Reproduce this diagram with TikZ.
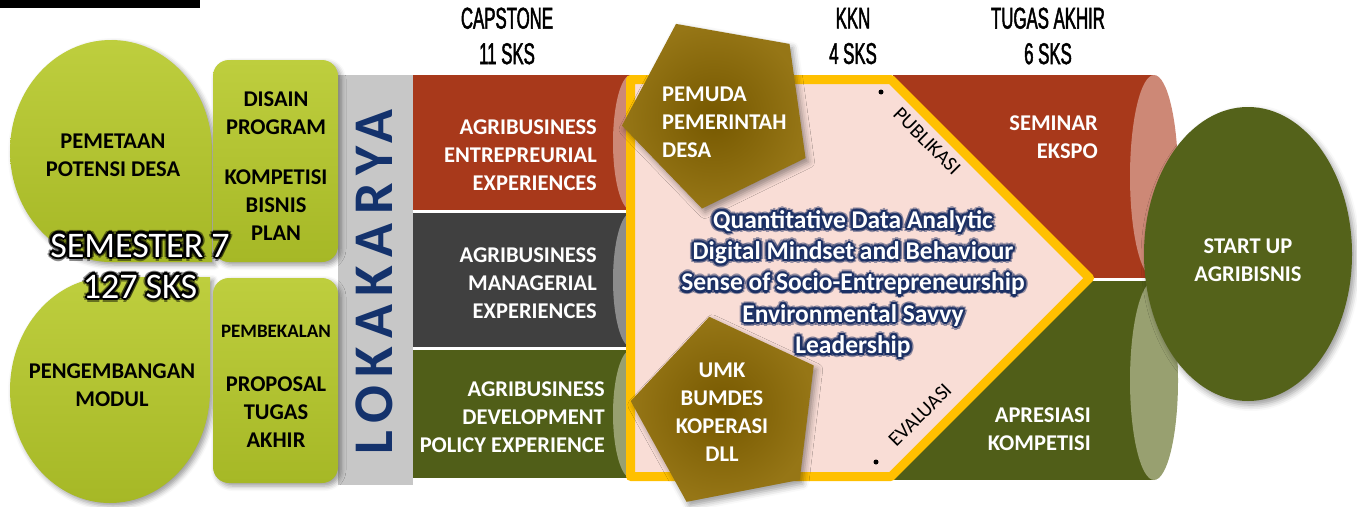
\documentclass[tikz,border=0pt]{standalone}
\usepackage{fontspec}
\setmainfont{Carlito}
\newfontfamily\capfont[FakeStretch=0.56, FakeBold=1.6]{Liberation Sans}
\newfontfamily\lokafont[LetterSpace=15]{Carlito}
\usepackage{tikz}
\usetikzlibrary{calc, shapes.geometric, shadows.blur}
\definecolor{sklime}     {RGB}{166, 184, 38}
\definecolor{sklimelight}{RGB}{190, 206, 62}
\definecolor{skgrey}     {RGB}{199, 199, 199}
\definecolor{sknavy}     {RGB}{20,  50,  108}
\definecolor{skred}      {RGB}{168, 57,  27}
\definecolor{skredcap}   {RGB}{205, 136, 118}
\definecolor{skdark}     {RGB}{64,  64,  64}
\definecolor{skdarkcap}  {RGB}{140, 140, 140}
\definecolor{skolive}    {RGB}{80,  94,  24}
\definecolor{skolivecap} {RGB}{152, 160, 112}
\definecolor{skpink}     {RGB}{249, 221, 214}
\definecolor{skyellow}   {RGB}{255, 192, 0}
\definecolor{skgold}     {RGB}{118, 88,  0}
\definecolor{skgoldlight}{RGB}{150, 118, 22}
\definecolor{skstart}    {RGB}{84,  98,  26}
\definecolor{skglow}     {RGB}{28,  48,  100}

% white text with a coloured halo
\newcommand{\glowtext}[5]{%
  \foreach \gr/\gop in {4/0.45,2.2/1}{
    \foreach \ga in {0,45,...,315}{
      \node[#4,text=#3,opacity=\gop] at ($(#2)+(\ga:\gr pt)$) {#5};}}
  \node[#4,text=white] (#1) at (#2) {#5};}

\begin{document}
\begin{tikzpicture}[x=1pt, y=1pt,
  darklbl/.style={font=\bfseries\fontsize{22.5}{28}\selectfont, align=center, inner sep=0, text=black},
  whitelbl/.style={darklbl, text=white},
  headlbl/.style={font=\capfont\fontsize{30}{35.5}\selectfont, align=center, inner sep=0},
  sidelbl/.style={font=\fontsize{20.5}{24}\selectfont, inner sep=0},
  semtxt/.style={font=\fontsize{36}{41}\selectfont, align=center, inner sep=0},
  keytxt/.style={font=\bfseries\fontsize{25.5}{31.25}\selectfont, align=center, inner sep=0},
  limeshape/.style={top color=sklimelight, bottom color=sklime,
    blur shadow={shadow xshift=3pt, shadow yshift=-3pt, shadow blur radius=5pt}},
  gembox/.style={regular polygon, regular polygon sides=5, minimum size=196, inner sep=0, outer sep=0,
    inner color=skgold, outer color=skgoldlight,
    blur shadow={shadow xshift=3pt, shadow yshift=-4pt, shadow blur radius=6pt}},
]
\useasboundingbox (0,0) rectangle (1357,-506);
\fill (0,0) rectangle (200,-8);
\fill[skgrey] (338,-75) rectangle (413,-485);

% capstone rows
\fill[skred] (413,-75) rectangle (631,-210);
\fill[skredcap] (631,-142.5) ellipse [x radius=18, y radius=67.5];
\fill[skdark] (413,-213) rectangle (631,-347);
\fill[skdarkcap] (631,-280) ellipse [x radius=18, y radius=67];
\fill[skolive] (413,-350) rectangle (631,-478);
\fill[skolivecap] (631,-414) ellipse [x radius=18, y radius=64];

% tugas akhir cylinders
\fill[skred] (893,-75) rectangle (1154,-278);
\fill[skredcap] (1154,-176.5) ellipse [x radius=24, y radius=101.5];
\fill[skolive] (893,-281) rectangle (1154,-480);
\fill[skolivecap] (1154,-380.5) ellipse [x radius=24, y radius=99.5];

\draw[line width=9, draw=skyellow, fill=skpink, line join=round]
  (630.5,-79.5) -- (891.1,-79.5) -- (1089.6,-278) -- (891.1,-476.5) -- (630.5,-476.5) -- cycle;

\node[gembox, shape border rotate=26] (gemtop) at (719,-112) {};
\node[gembox, shape border rotate=11] (gembottom) at (728,-413) {};

\path[fill=skstart, blur shadow={shadow xshift=3pt, shadow yshift=-4pt, shadow blur radius=6pt}]
  (1248,-254) ellipse [x radius=104, y radius=147];

\path[limeshape] (212,-262) -- (212,-151) arc[start angle=0, end angle=270, x radius=101, y radius=111] -- cycle;
\path[limeshape] (210,-277) -- (110,-277) arc[start angle=90, end angle=360, x radius=100, y radius=113] -- cycle;
\path[limeshape, rounded corners=16] (213,-60) rectangle (338,-262);
\path[limeshape, rounded corners=16] (213,-278) rectangle (338,-483);

\node[headlbl] (capstone) at (507,-36) {CAPSTONE\\11 SKS};
\node[headlbl] (kkn) at (853,-36) {KKN\\4 SKS};
\node[headlbl] (tugas) at (1048,-36) {TUGAS AKHIR\\6 SKS};

\node[darklbl] (pemetaan) at (113,-155) {PEMETAAN\\POTENSI DESA};
\node[darklbl] (modul) at (112,-385) {PENGEMBANGAN\\MODUL};
\node[darklbl] (disain) at (276,-166) {DISAIN\\PROGRAM\\[22pt]KOMPETISI\\BISNIS\\PLAN};
\node[darklbl, font=\bfseries\fontsize{19}{23}\selectfont] (pembekalan) at (276,-331) {PEMBEKALAN};
\node[darklbl] (proposal) at (276,-412) {PROPOSAL\\TUGAS\\AKHIR};

\node[rotate=90, font=\lokafont\bfseries\fontsize{56}{60}\selectfont, text=sknavy, inner sep=0] (lokakarya) at (374,-282) {LOKAKARYA};

\node[whitelbl, align=right, anchor=east] (entre) at (597,-155.5) {AGRIBUSINESS\\ENTREPREURIAL\\EXPERIENCES};
\node[whitelbl, align=right, anchor=east] (manag) at (597,-283) {AGRIBUSINESS\\MANAGERIAL\\EXPERIENCES};
\node[whitelbl, align=right, anchor=east] (devel) at (605,-417.5) {AGRIBUSINESS\\DEVELOPMENT\\POLICY EXPERIENCE};

\node[whitelbl, align=right, anchor=east] (seminar) at (1098,-137) {SEMINAR\\EKSPO};
\node[whitelbl, align=right, anchor=east] (apresiasi) at (1091,-429) {APRESIASI\\KOMPETISI};

\node[whitelbl, align=left, anchor=west] (pemuda) at (662,-122.5) {PEMUDA\\PEMERINTAH\\DESA};
\node[whitelbl] (umk) at (722,-412) {UMK\\BUMDES\\KOPERASI\\DLL};
\node[whitelbl] (startup) at (1248,-260) {START UP\\AGRIBISNIS};

\node[sidelbl, rotate=-45] (publikasi) at (927,-141) {PUBLIKASI};
\node[sidelbl, rotate=45] (evaluasi) at (920,-415) {EVALUASI};
\fill (881,-92) circle (2.5);
\fill (876,-462) circle (2.5);

\glowtext{semester}{140,-266}{black}{semtxt}{SEMESTER 7\\127 SKS}
\glowtext{softskill}{853,-284}{skglow}{keytxt}{Quantitative Data Analytic\\Digital Mindset and Behaviour\\Sense of Socio-Entrepreneurship\\Environmental Savvy\\Leadership}
\end{tikzpicture}
\end{document}
